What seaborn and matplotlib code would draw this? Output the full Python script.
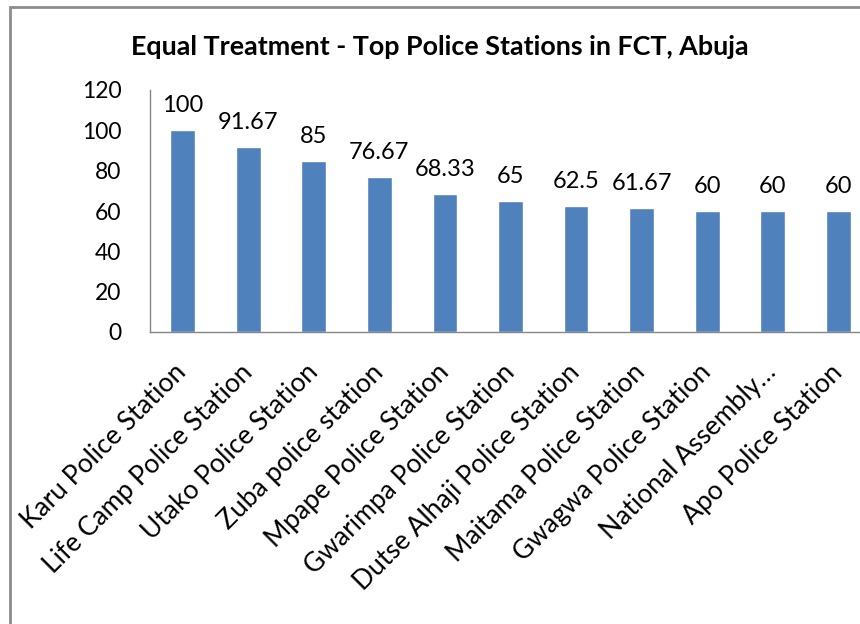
import matplotlib
matplotlib.use("Agg")
import matplotlib.pyplot as plt
import matplotlib.transforms as mtransforms
import seaborn as sns
import pandas as pd
from matplotlib.patches import Rectangle

stations = ["Karu Police Station", "Life Camp Police Station", "Utako Police Station",
            "Zuba police station", "Mpape Police Station", "Gwarimpa Police Station",
            "Dutse Alhaji Police Station", "Maitama Police Station", "Gwagwa Police Station",
            "National Assembly\u2026", "Apo Police Station"]
scores = [100, 91.67, 85, 76.67, 68.33, 65, 62.5, 61.67, 60, 60, 60]
score_labels = ["100", "91.67", "85", "76.67", "68.33", "65", "62.5", "61.67", "60", "60", "60"]
yticks = [0, 20, 40, 60, 80, 100, 120]
title = "Equal Treatment - Top Police Stations in FCT, Abuja"

sns.set_theme(style="white")
plt.rcParams['font.family'] = ['Lato', 'DejaVu Sans']

fig = plt.figure(figsize=(8.6, 6.24), dpi=100)
ax = fig.add_axes([150/860, 1-332/624, 721/860, 242/624])

df = pd.DataFrame({"station": stations, "score": scores})
sns.barplot(data=df, x="station", y="score", color="#4F81BD", width=0.38,
            saturation=1, ax=ax)

ax.set_ylim(0, 120)
ax.set_xlim(-0.5, len(stations) - 0.5)
ax.set_yticks(yticks)
ax.set_yticklabels([str(v) for v in yticks], fontsize=16.5, color="black")
ax.set_xticks(range(len(stations)))
ax.set_xticklabels(stations, rotation=45, ha="right", rotation_mode="anchor",
                   fontsize=19, color="black")
ax.set_xlabel("")
ax.set_ylabel("")

# category boundary ticks
ax.set_xticks([i - 0.5 for i in range(len(stations) + 1)], minor=True)
ax.tick_params(axis="x", which="major", length=0, pad=20)
ax.tick_params(axis="x", which="minor", length=7, width=1, color="#868686", direction="out")
ax.tick_params(axis="y", length=6.5, width=1, color="#868686", direction="out", pad=14)

shift = mtransforms.ScaledTranslation(-9/100, 0, fig.dpi_scale_trans)
for tick in ax.xaxis.get_major_ticks():
    tick.label1.set_transform(tick.label1.get_transform() + shift)

for s in ["top", "right"]:
    ax.spines[s].set_visible(False)
for s in ["left", "bottom"]:
    ax.spines[s].set_color("#868686")
    ax.spines[s].set_linewidth(1)

for i, (v, lab) in enumerate(zip(scores, score_labels)):
    ax.annotate(lab, (i, v), xytext=(0, 10), textcoords="offset points",
                ha="center", va="bottom", fontsize=17, color="black")

fig.text(440/860, 1-47/624, title, ha="center", va="center",
         fontsize=19.4, fontweight="bold", color="black")

fig.patches.append(Rectangle((10/860, -0.1), 1.2, 1 - 7/624 + 0.1,
                             transform=fig.transFigure, fill=False,
                             edgecolor="#8c8c8c", linewidth=2, figure=fig))

fig.savefig("out.png", dpi=100)
